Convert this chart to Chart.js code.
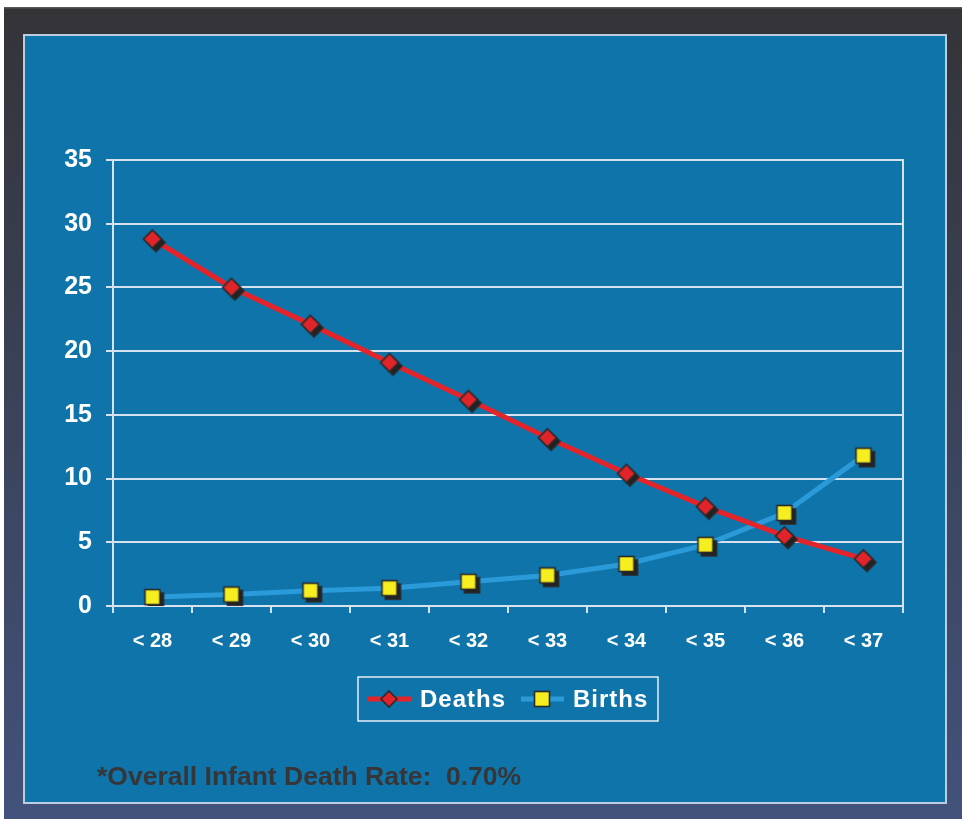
<!DOCTYPE html>
<html>
<head>
<meta charset="utf-8">
<script src="https://cdn.jsdelivr.net/npm/chart.js@4.4.1/dist/chart.umd.min.js"></script>
<style>
  html, body { margin: 0; padding: 0; background: #ffffff; }
  #wrap { position: relative; width: 962px; height: 819px; overflow: hidden; }
  #c { position: absolute; left: 0; top: 0; }
</style>
</head>
<body>
<div id="wrap"><canvas id="c" width="962" height="819"></canvas></div>
<script>
// Gestational age groups (weeks)
const categories = ['< 28', '< 29', '< 30', '< 31', '< 32', '< 33', '< 34', '< 35', '< 36', '< 37'];
// Percent of infant deaths and of births, cumulative by gestational age
const deaths = [28.8, 25.0, 22.1, 19.1, 16.2, 13.2, 10.4, 7.8, 5.5, 3.7];
const births = [0.7, 0.9, 1.2, 1.4, 1.9, 2.4, 3.3, 4.8, 7.3, 11.8];
const yTicks = [0, 5, 10, 15, 20, 25, 30, 35];
const seriesNames = ['Deaths', 'Births'];
const footnote = '*Overall Infant Death Rate:  0.70%';

const FONT = '"Liberation Sans", Arial, Helvetica, sans-serif';
const GRID = '#d6e3ee';
const RED = '#e3252b';
const BLUE = '#2b9ad9';
const YELLOW = '#f6ee1f';
const EDGE = '#2a2a2a';

// Marker drawing helpers (used for the plotted points and the legend keys)
function drawDiamond(ctx, cx, cy, r, fill) {
  ctx.beginPath();
  ctx.moveTo(cx, cy - r);
  ctx.lineTo(cx + r, cy);
  ctx.lineTo(cx, cy + r);
  ctx.lineTo(cx - r, cy);
  ctx.closePath();
  ctx.fillStyle = fill;
  ctx.fill();
  ctx.lineWidth = 1.6;
  ctx.strokeStyle = EDGE;
  ctx.stroke();
}
function drawSquare(ctx, cx, cy, h, fill) {
  ctx.fillStyle = fill;
  ctx.fillRect(cx - h, cy - h, 2 * h, 2 * h);
  ctx.lineWidth = 1.6;
  ctx.strokeStyle = EDGE;
  ctx.strokeRect(cx - h, cy - h, 2 * h, 2 * h);
}

// Point images with a hard drop shadow to the lower right
function markerImage(kind) {
  const s = 36, c = s / 2, off = 3.5;
  const cv = document.createElement('canvas');
  cv.width = s; cv.height = s;
  const g = cv.getContext('2d');
  if (kind === 'diamond') {
    drawDiamond(g, c + off, c + off, 9, '#222222');
    drawDiamond(g, c, c, 9, '#e0242a');
  } else {
    drawSquare(g, c + off, c + off, 7.5, '#222222');
    drawSquare(g, c, c, 7.5, YELLOW);
  }
  return cv;
}

// Page frame: dark outer border and blue slide panel
const framePlugin = {
  id: 'frame',
  beforeDraw(chart) {
    const ctx = chart.ctx;
    ctx.save();
    ctx.fillStyle = '#ffffff';
    ctx.fillRect(0, 0, chart.width, chart.height);
    const grad = ctx.createLinearGradient(0, 7, 0, 819);
    grad.addColorStop(0, '#343438');
    grad.addColorStop(1, '#43527c');
    ctx.fillStyle = grad;
    ctx.fillRect(4, 7, 958, 812);
    ctx.fillStyle = '#5a5a5e';
    ctx.fillRect(4, 7, 958, 1.5);
    ctx.fillStyle = '#0f74aa';
    ctx.fillRect(24, 35, 922, 768);
    ctx.lineWidth = 2;
    ctx.strokeStyle = '#bccde0';
    ctx.strokeRect(24, 35, 922, 768);
    ctx.restore();
  },
  beforeDatasetsDraw(chart) {
    // right-hand edge of the plot area
    const { ctx, chartArea: a, scales } = chart;
    ctx.save();
    ctx.strokeStyle = GRID;
    ctx.lineWidth = 2;
    ctx.beginPath();
    ctx.moveTo(a.right, a.top - 1);
    ctx.lineTo(a.right, scales.x.top + 7);
    ctx.stroke();
    ctx.restore();
  },
  afterDraw(chart) {
    const { ctx, chartArea: a } = chart;
    ctx.save();
    // legend box
    const boxW = 300, boxH = 44;
    const cx = (a.left + a.right) / 2;
    const bx = Math.round(cx - boxW / 2), by = 677;
    ctx.lineWidth = 1.5;
    ctx.strokeStyle = '#e6eef5';
    ctx.strokeRect(bx, by, boxW, boxH);
    const midY = by + boxH / 2;
    ctx.font = 'bold 24px ' + FONT;
    ctx.letterSpacing = '1px';
    ctx.textBaseline = 'middle';
    ctx.textAlign = 'left';
    const ds = chart.data.datasets;
    // Deaths key
    ctx.lineWidth = 5;
    ctx.strokeStyle = ds[0].borderColor;
    ctx.beginPath(); ctx.moveTo(bx + 9, midY); ctx.lineTo(bx + 53, midY); ctx.stroke();
    drawDiamond(ctx, bx + 31, midY, 8, '#e0242a');
    ctx.fillStyle = '#ffffff';
    ctx.fillText(ds[0].label, bx + 62, midY + 1);
    // Births key
    ctx.lineWidth = 5;
    ctx.strokeStyle = ds[1].borderColor;
    ctx.beginPath(); ctx.moveTo(bx + 163, midY); ctx.lineTo(bx + 206, midY); ctx.stroke();
    drawSquare(ctx, bx + 184, midY, 7.5, YELLOW);
    ctx.fillStyle = '#ffffff';
    ctx.fillText(ds[1].label, bx + 215, midY + 1);
    // footnote
    ctx.letterSpacing = '0px';
    ctx.font = 'bold 26.5px ' + FONT;
    ctx.fillStyle = '#363638';
    ctx.textBaseline = 'alphabetic';
    ctx.fillText(footnote, 97, 785);
    ctx.restore();
  }
};

new Chart(document.getElementById('c'), {
  type: 'line',
  data: {
    labels: categories,
    datasets: [
      {
        label: seriesNames[0],
        data: deaths,
        borderColor: RED,
        borderWidth: 5,
        pointStyle: markerImage('diamond'),
        pointRadius: 9,
        tension: 0
      },
      {
        label: seriesNames[1],
        data: births,
        borderColor: BLUE,
        borderWidth: 5,
        pointStyle: markerImage('square'),
        pointRadius: 9,
        tension: 0
      }
    ]
  },
  options: {
    responsive: false,
    animation: false,
    devicePixelRatio: 1,
    layout: { padding: { left: 0, right: 59, top: 160, bottom: 0 } },
    plugins: {
      legend: { display: false },
      tooltip: { enabled: false },
      title: { display: false }
    },
    scales: {
      x: {
        type: 'category',
        offset: true,
        afterFit(scale) { scale.height = 213; },
        grid: {
          drawOnChartArea: false,
          drawTicks: true,
          tickLength: 7,
          color: GRID,
          lineWidth: 2,
          offset: true
        },
        border: { display: true, color: GRID, width: 2 },
        ticks: {
          color: '#ffffff',
          font: { family: FONT, size: 20, weight: 'bold' },
          padding: 16,
          maxRotation: 0,
          autoSkip: false
        }
      },
      y: {
        min: 0,
        max: 35,
        afterFit(scale) { scale.width = 113; },
        afterBuildTicks(scale) { scale.ticks = yTicks.map(v => ({ value: v })); },
        grid: {
          color: GRID,
          lineWidth: 2,
          drawTicks: true,
          tickLength: 7
        },
        border: { display: true, color: GRID, width: 2 },
        ticks: {
          color: '#ffffff',
          font: { family: FONT, size: 25, weight: 'bold' },
          padding: 14
        }
      }
    }
  },
  plugins: [framePlugin]
});
</script>
</body>
</html>
